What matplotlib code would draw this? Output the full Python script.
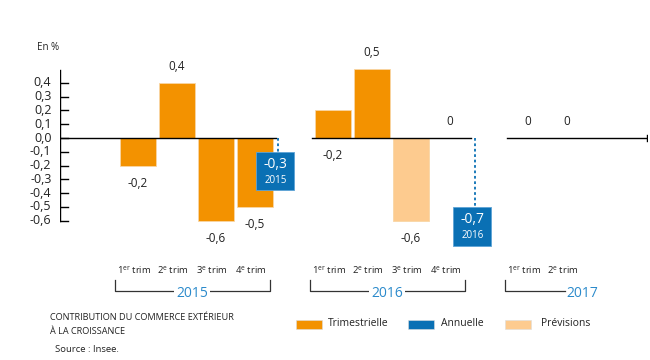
import numpy as np
import matplotlib.pyplot as plt
from matplotlib.patches import Rectangle

# data
years = ["2015", "2016", "2017"]
quarters = [["1er", "2e", "3e", "4e"], ["1er", "2e", "3e", "4e"], ["1er", "2e"]]
quarterly = [[-0.2, 0.4, -0.6, -0.5], [0.2, 0.5, -0.6, 0.0], [0.0, 0.0]]
labels = [["-0,2", "0,4", "-0,6", "-0,5"], ["-0,2", "0,5", "-0,6", "0"], ["0", "0"]]
forecast = [[False] * 4, [False, False, True, True], [True, True]]
annual = [-0.3, -0.7]
annual_text = ["-0,3", "-0,7"]
yticks = [0.4, 0.3, 0.2, 0.1, 0.0, -0.1, -0.2, -0.3, -0.4, -0.5, -0.6]

ORANGE = "#F39200"
PALE = "#FDCB8F"
BLUE = "#0A70B4"
YEARBLUE = "#2B8ACB"

plt.rcParams['font.family'] = ['Open Sans', 'DejaVu Sans']

W, H = 650, 360
fig = plt.figure(figsize=(W / 100, H / 100), dpi=100)
# axes: x pixel 60..648, y pixel 20..310
ax = fig.add_axes([60 / W, 1 - 310 / H, (648 - 60) / W, (310 - 20) / H])
pitch = 39.0
ax.set_xlim(0, (648 - 60) / pitch)
ax.set_ylim((138 - 310) / 138, (138 - 20) / 138)
ax.axis('off')

starts = [2, 7, 12]
for g, yr in enumerate(years):
    xs = starts[g] + np.arange(len(quarterly[g]))
    cols = [PALE if f else ORANGE for f in forecast[g]]
    ax.bar(xs, quarterly[g], width=0.9, color=cols, edgecolor="#F9D6A5", linewidth=0.6, zorder=2)
    for x, v, lab in zip(xs, quarterly[g], labels[g]):
        if lab.startswith("-"):
            y = min(v, 0) - 0.13
        else:
            y = max(v, 0) + 0.12
        ax.text(x, y, lab, ha='center', va='center', fontsize=8.5, color="#222222")
    # zero line segment
    left = xs[0] - 0.55 if g > 0 else 0
    right = xs[-1] + 0.55 if g < 2 else ax.get_xlim()[1]
    ax.plot([left, right], [0, 0], color="black", lw=1, zorder=3)
    # quarter labels
    for x, q in zip(xs, quarters[g]):
        sup = q[1:]
        ax.text(x - 0.1, -0.957, q[0] + r"$^{\mathregular{" + sup + r"}}$" + " trim",
                ha='center', va='center', fontsize=6.8, color="#222222")
    # bracket
    bl = xs[0] - 0.59
    br = xs[0] + 3 + 0.38
    yb, yt = -1.109, -1.029
    mid = (bl + br) / 2
    if g < 2:
        ax.plot([bl, bl, br, br], [yt, yb, yb, yt], color="#333333", lw=0.9, clip_on=False)
    else:
        ax.plot([bl, bl, mid - 0.45], [yt, yb, yb], color="#333333", lw=0.9, clip_on=False)
    ax.text(mid, yb - 0.015, yr, ha='center', va='center', fontsize=10, color=YEARBLUE,
            bbox=dict(facecolor='white', edgecolor='none', pad=1.5) if g < 2 else None)

# end tick of axis
xend = ax.get_xlim()[1]
ax.plot([xend - 0.02, xend - 0.02], [-0.02, 0.02], color="black", lw=1)

# y axis
ax.plot([0, 0], [-0.6, 0.49], color="black", lw=1, zorder=3)
for t in yticks:
    ax.plot([-0.13, 0.2], [t, t], color="black", lw=1, zorder=3)
    ax.text(-0.22, t, f"{t:.1f}".replace(".", ","), ha='right', va='center', fontsize=9,
            color="#222222")
ax.text(-0.3, (138 - 48) / 138, "En %", ha='center', va='center', fontsize=7, color="#222222")

# annual boxes
ann_x = [5.59, 10.64]
for x, v, t, yr in zip(ann_x, annual, annual_text, years):
    top = v + 0.2
    ax.plot([x, x], [0, top], color=BLUE, lw=1.3, ls=(0, (1.5, 1.5)), zorder=3)
    bw = 0.98
    ax.add_patch(Rectangle((x - 0.07 - bw / 2, v - 0.08), bw, 0.28, facecolor=BLUE,
                           edgecolor="#5DA3D6", lw=0.6, zorder=4))
    ax.text(x - 0.07, top - 0.09, t, ha='center', va='center', fontsize=10, color='white', zorder=5)
    ax.text(x - 0.07, top - 0.205, yr, ha='center', va='center', fontsize=7, color='white', zorder=5)

# footer
fig.text(50 / W, 1 - 318 / H, "CONTRIBUTION DU COMMERCE EXTÉRIEUR", fontsize=6.6, va='center',
         color="#222222")
fig.text(50 / W, 1 - 332 / H, "À LA CROISSANCE", fontsize=6.6, va='center', color="#222222")
fig.text(55 / W, 1 - 350 / H, "Source : Insee.", fontsize=6.8, va='center', color="#222222")

leg = [("Trimestrielle", ORANGE, 296, 328), ("Annuelle", BLUE, 408, 441), ("Prévisions", PALE, 505, 541)]
for name, c, px, tx in leg:
    fig.patches.append(Rectangle((px / W, 1 - 329 / H), 26 / W, 9 / H, facecolor=c,
                                 edgecolor="#dddddd", lw=0.4, transform=fig.transFigure))
    fig.text(tx / W, 1 - 324 / H, name, fontsize=7.5, va='center', color="#222222")

fig.savefig("out.png", dpi=100)
